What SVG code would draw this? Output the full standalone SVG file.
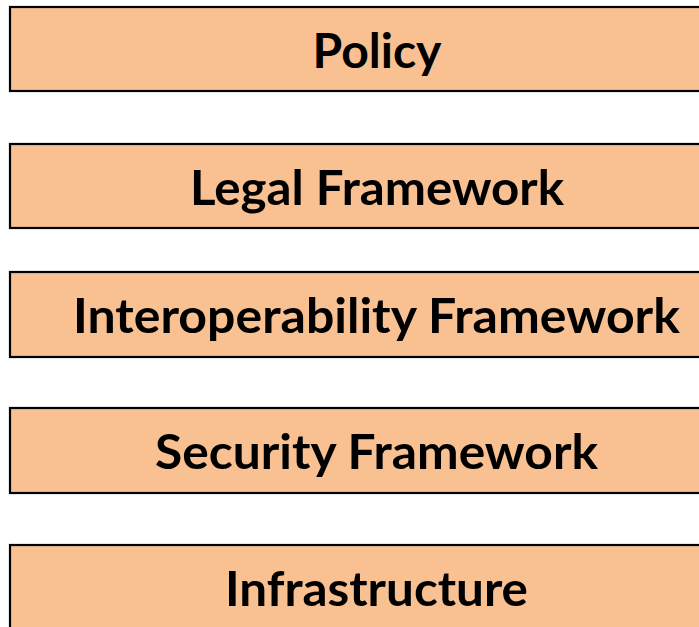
<svg xmlns="http://www.w3.org/2000/svg" width="699" height="627" viewBox="0 0 699 627">
<style>
.box{fill:#F9C092;stroke:#000;stroke-width:2.2}
.lbl{font-family:Lato,"Open Sans","Liberation Sans",sans-serif;font-weight:bold;font-size:47px;fill:#000;text-anchor:middle}
</style>
<rect width="699" height="627" fill="#fff"/>
<g id="policy"><rect class="box" x="10" y="7" width="734" height="84"/><text class="lbl" x="377" y="67.5" textLength="129" lengthAdjust="spacingAndGlyphs">Policy</text></g>
<g id="legal"><rect class="box" x="10" y="144" width="734" height="84"/><text class="lbl" x="377" y="204.5" textLength="374" lengthAdjust="spacingAndGlyphs">Legal Framework</text></g>
<g id="interop"><rect class="box" x="10" y="272" width="734" height="85"/><text class="lbl" x="376.5" y="333" textLength="607" lengthAdjust="spacingAndGlyphs">Interoperability Framework</text></g>
<g id="security"><rect class="box" x="10" y="408" width="734" height="85"/><text class="lbl" x="376.5" y="469" textLength="443" lengthAdjust="spacingAndGlyphs">Security Framework</text></g>
<g id="infra"><rect class="box" x="10" y="545" width="734" height="90"/><text class="lbl" x="376.5" y="605.5" textLength="303" lengthAdjust="spacingAndGlyphs">Infrastructure</text></g>
<g id="connectors"/>
</svg>
